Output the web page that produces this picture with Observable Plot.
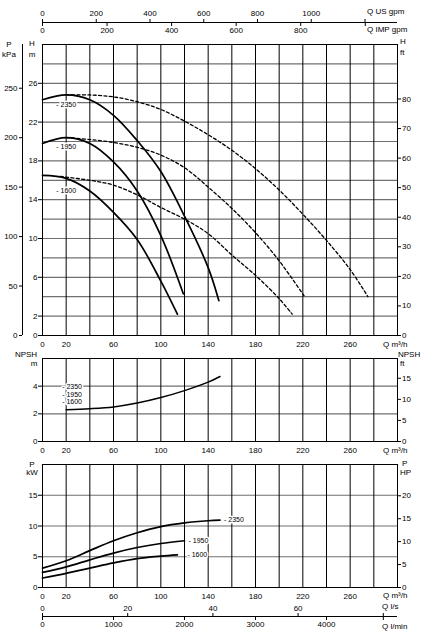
<!DOCTYPE html>
<html><head><meta charset="utf-8">
<script src="https://cdn.jsdelivr.net/npm/d3@7"></script>
<script src="https://cdn.jsdelivr.net/npm/@observablehq/plot@0.6"></script>
<style>
html,body{margin:0;padding:0;background:#fff;}
#root{position:relative;width:429px;height:639px;overflow:hidden;font-family:"Liberation Sans",Arial,sans-serif;font-size:8px;color:#000;}
#root svg{position:absolute;left:0;}
.lab{position:absolute;white-space:nowrap;line-height:8px;height:8px;}
</style></head><body><div id="root"></div>
<script>
// ---------- data ----------
const speeds = ["2350", "1950", "1600"];

// head curves, solid (m vs m3/h)
const headSolidQ2350 = [0, 20, 40, 60, 80, 100, 120, 140, 149];
const headSolidH2350 = [24.3, 24.8, 24.3, 22.7, 20.1, 16.9, 12.3, 7.0, 3.6];
const headSolidQ1950 = [0, 20, 40, 60, 80, 100, 119];
const headSolidH1950 = [19.8, 20.4, 19.8, 17.9, 14.9, 10.3, 4.3];
const headSolidQ1600 = [0, 20, 40, 60, 80, 100, 114];
const headSolidH1600 = [16.5, 16.2, 14.9, 12.7, 9.9, 5.6, 2.2];

// head curves, dashed
const headDashQ2350 = [20, 40, 60, 80, 100, 120, 140, 160, 180, 200, 220, 240, 260, 275];
const headDashH2350 = [24.8, 24.8, 24.6, 24.1, 23.3, 22.1, 20.7, 19.1, 17.2, 15.0, 12.5, 9.8, 6.8, 4.0];
const headDashQ1950 = [20, 40, 60, 80, 100, 120, 140, 160, 180, 200, 221];
const headDashH1950 = [20.4, 20.2, 19.9, 19.4, 18.6, 17.3, 15.3, 13.1, 10.6, 7.7, 4.1];
const headDashQ1600 = [15, 40, 60, 80, 100, 120, 140, 160, 180, 200, 211];
const headDashH1600 = [16.4, 16.0, 15.5, 14.5, 13.2, 12.0, 10.5, 8.3, 6.2, 3.8, 2.2];

// NPSH (m)
const npshQ = [20, 40, 60, 80, 100, 120, 140, 150];
const npshM = [2.3, 2.37, 2.5, 2.78, 3.18, 3.68, 4.29, 4.7];

// power (kW)
const powerQ2350 = [0, 20, 40, 60, 80, 100, 120, 140, 150];
const powerP2350 = [3.15, 4.35, 6.0, 7.6, 8.9, 9.9, 10.5, 10.85, 10.95];
const powerQ1950 = [0, 20, 40, 60, 80, 100, 120];
const powerP1950 = [2.45, 3.35, 4.5, 5.6, 6.5, 7.15, 7.6];
const powerQ1600 = [0, 20, 40, 60, 80, 100, 114];
const powerP1600 = [1.55, 2.3, 3.15, 4.0, 4.7, 5.1, 5.3];

// tick labels
const qTicks = [0, 20, 60, 100, 140, 180, 220, 260];
const headTicksM = [0, 2, 6, 10, 14, 18, 22, 26];
const headTicksFt = [0, 10, 20, 30, 40, 50, 60, 70, 80];
const pressTicksKPa = [0, 50, 100, 150, 200, 250];
const npshTicksM = [0, 2, 4];
const npshTicksFt = [0, 5, 10, 15];
const powerTicksKW = [0, 5, 10, 15];
const powerTicksHP = [0, 5, 10, 15, 20];
const usGpmTicks = [0, 200, 400, 600, 800, 1000, 1200];
const impGpmTicks = [0, 200, 400, 600, 800, 1000];
const lsTicks = [0, 20, 40, 60, 80];
const lminTicks = [0, 1000, 2000, 3000, 4000, 4800];

// unit conversions
const US = 4.402868, IMP = 3.666154, KPA = 9.80665, FT = 0.3048, HP = 0.7457, LS = 3.6, LMIN = 0.06;

// ---------- helpers ----------
const pts = (q, v) => q.map((x, i) => ({q: x, v: v[i]}));
const head = [pts(headSolidQ2350, headSolidH2350), pts(headSolidQ1950, headSolidH1950), pts(headSolidQ1600, headSolidH1600)];
const headDash = [pts(headDashQ2350, headDashH2350), pts(headDashQ1950, headDashH1950), pts(headDashQ1600, headDashH1600)];
const power = [pts(powerQ2350, powerP2350), pts(powerQ1950, powerP1950), pts(powerQ1600, powerP1600)];
const npsh = pts(npshQ, npshM);

const W = 429, ML = 42, MR = 32;
const FONT = '"Liberation Sans", Arial, sans-serif';
const style = {fontFamily: FONT, fontSize: "8px", background: "transparent", overflow: "visible"};
const gridQ = d3.range(0, 301, 20);
const solid = {x: "q", y: "v", stroke: "#000", strokeWidth: 1.7, curve: "catmull-rom"};
const dashed = {x: "q", y: "v", stroke: "#000", strokeWidth: 1.3, strokeDasharray: "3,2.4", curve: "catmull-rom"};
const lbl = {fontSize: 7, fill: "#000", stroke: "#fff", strokeWidth: 3, fontFamily: FONT};
const gridH = (t) => Plot.gridY(t, {stroke: "#707070", strokeOpacity: 1, strokeWidth: 1.2});
const gridV = () => Plot.gridX(gridQ, {stroke: "#000", strokeOpacity: 1, strokeWidth: 1});
const plain = d => String(d);
const xAxis = () => Plot.axisX({ticks: qTicks, tickFormat: plain, tickSize: 0, tickPadding: 6, label: null});
const conv = (k, max) => d => { const v = Math.round(d * k); return v > max ? "" : String(v); };

const root = document.getElementById("root");
function place(svg, top) { svg.style.top = top + "px"; root.appendChild(svg); }

// ---------- panel A : head ----------
const headLabelDy = [10, 9, 12];
const panelA = Plot.plot({
  width: W, height: 352, marginLeft: ML, marginRight: MR, marginTop: 44, marginBottom: 17,
  style, x: {domain: [0, 300]}, y: {domain: [0, 30]},
  marks: [
    gridH(d3.range(2, 30, 2)),
    gridV(),
    Plot.frame({stroke: "#000", strokeWidth: 1}),
    xAxis(),
    Plot.axisY({anchor: "left", ticks: headTicksM, tickFormat: plain, tickSize: 4, tickPadding: 1, label: null}),
    Plot.axisY({anchor: "right", ticks: headTicksFt.map(f => f * FT), tickFormat: conv(1 / FT, 1e9), tickSize: 3, tickPadding: 1.5, label: null}),
    Plot.ruleX([0], {dx: -20, stroke: "#000", strokeWidth: 1}),
    Plot.axisY({anchor: "left", ticks: pressTicksKPa.map(k => k / KPA), tickFormat: conv(KPA, 1e9), tickSize: 3, tickPadding: 2, dx: -20, label: null}),
    Plot.ruleY([30], {dy: -22, stroke: "#000", strokeWidth: 1}),
    Plot.axisX({anchor: "top", ticks: usGpmTicks.map(g => g / US), tickFormat: conv(US, 1000), tickSize: 4, tickPadding: 3, dy: -22, label: null}),
    Plot.axisX({anchor: "bottom", ticks: impGpmTicks.map(g => g / IMP), tickFormat: conv(IMP, 800), tickSize: 4, tickPadding: 1, dy: -313, label: null}),
    ...headDash.map(c => Plot.line(c, dashed)),
    ...head.map(c => Plot.line(c, solid)),
    ...speeds.map((s, i) => Plot.text([head[i][1]], {...lbl, x: "q", y: "v", text: () => "- " + s, dy: headLabelDy[i], textAnchor: "middle"}))
  ]
});
place(panelA, 0);

// ---------- panel B : NPSH ----------
const npshLabelDy = [-22.5, -15, -7.5];
const panelB = Plot.plot({
  width: W, height: 104, marginLeft: ML, marginRight: MR, marginTop: 6, marginBottom: 15,
  style, x: {domain: [0, 300]}, y: {domain: [0, 6]},
  marks: [
    gridH([2, 4]),
    gridV(),
    Plot.frame({stroke: "#000", strokeWidth: 1}),
    xAxis(),
    Plot.axisY({anchor: "left", ticks: npshTicksM, tickFormat: plain, tickSize: 4, tickPadding: 1, label: null}),
    Plot.axisY({anchor: "right", ticks: npshTicksFt.map(f => f * FT), tickFormat: conv(1 / FT, 1e9), tickSize: 3, tickPadding: 1.5, label: null}),
    Plot.line(npsh, {...solid, strokeWidth: 1.5}),
    ...speeds.map((s, i) => Plot.text([npsh[0]], {...lbl, x: "q", y: "v", text: () => "- " + s, dx: -4, dy: npshLabelDy[i], textAnchor: "start"}))
  ]
});
place(panelB, 352);

// ---------- panel C : power ----------
const powerLabelDx = [4, 4, 10];
const panelC = Plot.plot({
  width: W, height: 183, marginLeft: ML, marginRight: MR, marginTop: 8, marginBottom: 52,
  style, x: {domain: [0, 300]}, y: {domain: [0, 20]},
  marks: [
    gridH([5, 10, 15]),
    gridV(),
    Plot.frame({stroke: "#000", strokeWidth: 1}),
    xAxis(),
    Plot.axisY({anchor: "left", ticks: powerTicksKW, tickFormat: plain, tickSize: 4, tickPadding: 1, label: null}),
    Plot.axisY({anchor: "right", ticks: powerTicksHP.map(h => h * HP), tickFormat: conv(1 / HP, 1e9), tickSize: 3, tickPadding: 1.5, label: null}),
    Plot.ruleY([0], {dy: 29, stroke: "#000", strokeWidth: 1}),
    Plot.axisX({anchor: "top", ticks: lsTicks.map(l => l * LS), tickFormat: conv(1 / LS, 60), tickSize: 4, tickPadding: 2, dy: 152, label: null}),
    Plot.axisX({anchor: "bottom", ticks: lminTicks.map(l => l * LMIN), tickFormat: conv(1 / LMIN, 4000), tickSize: 4, tickPadding: 1, dy: 29, label: null}),
    ...power.map(c => Plot.line(c, solid)),
    ...speeds.map((s, i) => Plot.text([power[i][power[i].length - 1]], {...lbl, x: "q", y: "v", text: () => "- " + s, dx: powerLabelDx[i], textAnchor: "start"}))
  ]
});
place(panelC, 456);

// ---------- unit labels ----------
const labels = [
  ["Q US gpm", 367, 12, "l"], ["Q IMP gpm", 367, 30, "l"],
  ["P", 9, 45, "c"], ["kPa", 9, 55, "c"], ["H", 32, 44, "c"], ["m", 32, 55, "c"],
  ["H", 400, 42, "l"], ["ft", 400, 53, "l"],
  ["Q m³/h", 383, 345, "l"],
  ["NPSH", 26, 355, "c"], ["m", 34, 364, "c"], ["NPSH", 398, 355, "l"], ["ft", 400, 364, "l"],
  ["Q m³/h", 383, 451, "l"],
  ["P", 32, 465, "c"], ["kW", 32, 473, "c"], ["P", 402, 464, "l"], ["HP", 400, 473, "l"],
  ["Q m³/h", 383, 596, "l"], ["Q l/s", 382, 607, "l"], ["Q l/min", 382, 627, "l"]
];
for (const [t, x, y, a] of labels) {
  const d = document.createElement("div");
  d.className = "lab";
  d.textContent = t;
  d.style.left = x + "px";
  d.style.top = (y - 4) + "px";
  if (a === "c") d.style.transform = "translateX(-50%)";
  root.appendChild(d);
}
</script></body></html>
